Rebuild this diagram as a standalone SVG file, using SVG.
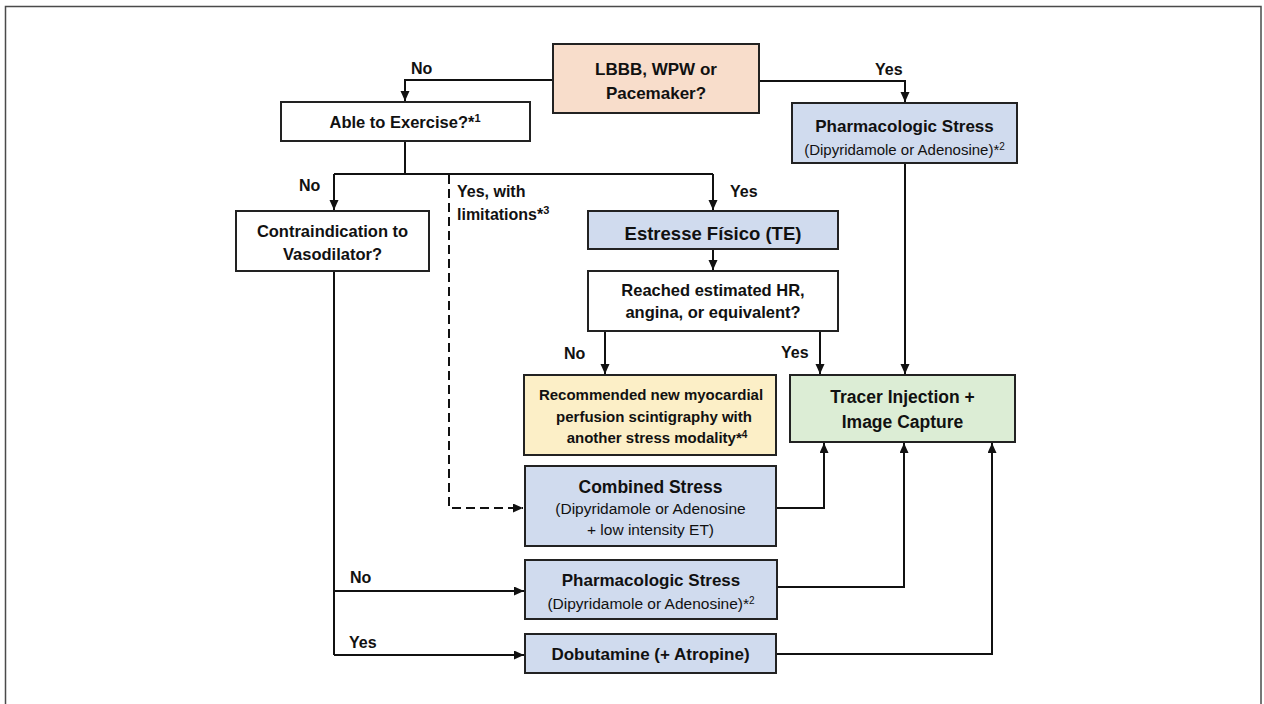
<svg xmlns="http://www.w3.org/2000/svg" width="1264" height="704" viewBox="0 0 1264 704">
  <style>
    text { font-family: "Liberation Sans", Arial, sans-serif; fill: #111; }
    .t { font-weight: bold; text-anchor: middle; }
    .s { font-weight: normal; text-anchor: middle; }
    .lbl { font-weight: bold; font-size: 16px; }
    .box { stroke: #222; stroke-width: 2; }
    .white { fill: #ffffff; }
    .peach { fill: #F8DDCB; }
    .blue { fill: #D0DBEE; }
    .yellow { fill: #FCEFC7; }
    .green { fill: #DCEDD5; }
    .link { fill: none; stroke: #111; stroke-width: 2; }
    .dash { stroke-dasharray: 9 5; }
  </style>
  <defs>
    <marker id="arrow" markerUnits="userSpaceOnUse" markerWidth="10" markerHeight="10" refX="10" refY="4.5" orient="auto">
      <path d="M0,0 L10,4.5 L0,9 z" fill="#111"/>
    </marker>
  </defs>

  <rect width="1264" height="704" fill="#ffffff"/>
  <!-- outer frame -->
  <rect x="5.5" y="6.5" width="1255.5" height="720" fill="none" stroke="#4a4a4a" stroke-width="1.5"/>

  <!-- connectors -->
  <g id="connectors">
    <path class="link" d="M553,80 H405 V101" marker-end="url(#arrow)"/>
    <path class="link" d="M759,81 H905 V102" marker-end="url(#arrow)"/>
    <path class="link" d="M405,141 V174"/>
    <path class="link" d="M334,174 H713"/>
    <path class="link" d="M334,174 V210" marker-end="url(#arrow)"/>
    <path class="link" d="M713,174 V210" marker-end="url(#arrow)"/>
    <path class="link dash" d="M449,175 V508 H523" marker-end="url(#arrow)"/>
    <path class="link" d="M713,249 V270" marker-end="url(#arrow)"/>
    <path class="link" d="M605,331 V374" marker-end="url(#arrow)"/>
    <path class="link" d="M820,331 V374" marker-end="url(#arrow)"/>
    <path class="link" d="M905,163 V374" marker-end="url(#arrow)"/>
    <path class="link" d="M334,271 V655"/>
    <path class="link" d="M334,591 H524" marker-end="url(#arrow)"/>
    <path class="link" d="M334,655 H524" marker-end="url(#arrow)"/>
    <path class="link" d="M776,508 H824 V443" marker-end="url(#arrow)"/>
    <path class="link" d="M777,587 H904 V443" marker-end="url(#arrow)"/>
    <path class="link" d="M776,654 H992 V443" marker-end="url(#arrow)"/>

    <text class="lbl" x="411" y="74">No</text>
    <text class="lbl" x="875" y="75">Yes</text>
    <text class="lbl" x="299" y="191">No</text>
    <text class="lbl" x="730" y="197">Yes</text>
    <text class="lbl" x="457" y="197">Yes, with</text>
    <text class="lbl" x="457" y="220">limitations*<tspan font-size="11" dy="-6">3</tspan></text>
    <text class="lbl" x="564" y="359">No</text>
    <text class="lbl" x="781" y="358">Yes</text>
    <text class="lbl" x="350" y="583">No</text>
    <text class="lbl" x="349" y="648">Yes</text>
  </g>

  <g id="lbbb">
    <rect class="box peach" x="553" y="44" width="206" height="69"/>
    <text class="t" x="656" y="75" font-size="17">LBBB, WPW or</text>
    <text class="t" x="656" y="99" font-size="17">Pacemaker?</text>
  </g>

  <g id="able-to-exercise">
    <rect class="box white" x="281" y="102" width="249" height="39"/>
    <text class="t" x="405" y="128" font-size="16.5">Able to Exercise?*<tspan font-size="11" dy="-6">1</tspan></text>
  </g>

  <g id="pharm-stress-top">
    <rect class="box blue" x="792" y="103" width="225" height="60"/>
    <text class="t" x="904.5" y="132" font-size="17">Pharmacologic Stress</text>
    <text class="s" x="904.5" y="155" font-size="15">(Dipyridamole or Adenosine)*<tspan font-size="10" dy="-5">2</tspan></text>
  </g>

  <g id="contraindication">
    <rect class="box white" x="236" y="211" width="193" height="60"/>
    <text class="t" x="332.5" y="237" font-size="16.5">Contraindication to</text>
    <text class="t" x="332.5" y="260" font-size="16.5">Vasodilator?</text>
  </g>

  <g id="estresse-fisico">
    <rect class="box blue" x="588" y="211" width="250" height="38"/>
    <text class="t" x="713" y="240" font-size="18.5">Estresse Físico (TE)</text>
  </g>

  <g id="reached-hr">
    <rect class="box white" x="588" y="271" width="250" height="60"/>
    <text class="t" x="713" y="296" font-size="16.5">Reached estimated HR,</text>
    <text class="t" x="713" y="318" font-size="16.5">angina, or equivalent?</text>
  </g>

  <g id="recommended-new">
    <rect class="box yellow" x="524" y="375" width="252" height="80"/>
    <text class="t" x="651" y="400" font-size="15">Recommended new myocardial</text>
    <text class="t" x="654" y="422" font-size="15">perfusion scintigraphy with</text>
    <text class="t" x="657" y="443" font-size="15">another stress modality*<tspan font-size="10" dy="-5">4</tspan></text>
  </g>

  <g id="tracer-injection">
    <rect class="box green" x="790" y="375" width="225" height="67"/>
    <text class="t" x="902.5" y="403" font-size="17.5">Tracer Injection +</text>
    <text class="t" x="902.5" y="428" font-size="17.5">Image Capture</text>
  </g>

  <g id="combined-stress">
    <rect class="box blue" x="525" y="466" width="251" height="80"/>
    <text class="t" x="650.5" y="493" font-size="17.5">Combined Stress</text>
    <text class="s" x="650.5" y="514" font-size="15.5">(Dipyridamole or Adenosine</text>
    <text class="s" x="650.5" y="535" font-size="15.5">+ low intensity ET)</text>
  </g>

  <g id="pharm-stress-bottom">
    <rect class="box blue" x="525" y="560" width="252" height="59"/>
    <text class="t" x="651" y="586" font-size="17">Pharmacologic Stress</text>
    <text class="s" x="651" y="609" font-size="15.5">(Dipyridamole or Adenosine)*<tspan font-size="10" dy="-5">2</tspan></text>
  </g>

  <g id="dobutamine">
    <rect class="box blue" x="525" y="634" width="251" height="39"/>
    <text class="t" x="650.5" y="660" font-size="17">Dobutamine (+ Atropine)</text>
  </g>
</svg>
